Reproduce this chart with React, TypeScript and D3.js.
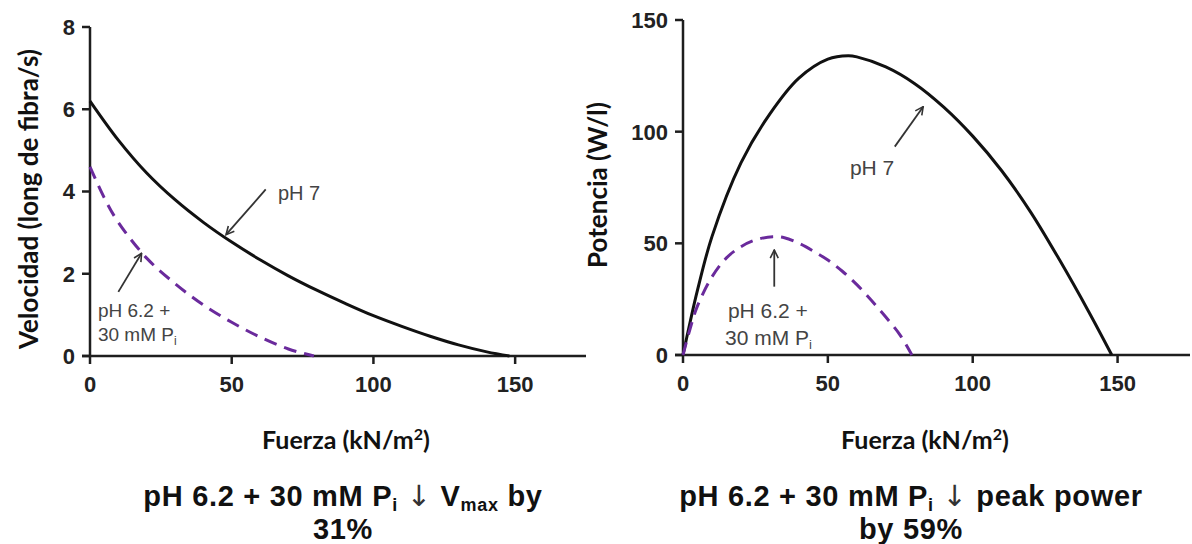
import React from "react";
import * as d3 from "d3";

// ---- Data ----
const forcePH7 = [0, 10, 20, 30, 40, 50, 60, 70, 80, 90, 100, 110, 120, 130, 140, 148];
const velocityPH7 = [6.2, 5.25, 4.45, 3.8, 3.25, 2.77, 2.34, 1.95, 1.6, 1.28, 0.98, 0.72, 0.48, 0.27, 0.1, 0];
const forceAcid = [0, 5, 10, 20, 30, 40, 50, 60, 70, 79];
const velocityAcid = [4.6, 3.85, 3.25, 2.38, 1.76, 1.24, 0.82, 0.46, 0.17, 0];

const powerForcePH7 = [0, 2.5, 5, 10, 20, 30, 40, 50, 57, 60, 70, 80, 90, 100, 110, 120, 130, 140, 148];
const powerPH7 = [0, 15, 29, 53, 86, 108, 124, 132.5, 134, 133.5, 129, 121.5, 111, 98, 82.5, 64, 42.5, 19.5, 0];
const powerForceAcid = [0, 2.5, 5, 10, 15, 20, 25, 31, 35, 40, 45, 50, 55, 60, 65, 70, 75, 79];
const powerAcid = [0, 12, 22, 35, 43.5, 48.5, 51.5, 53, 52.5, 50, 46.5, 42.5, 37.5, 31.5, 24.5, 17, 8.8, 0];

const xTicks = [0, 50, 100, 150];
const velocityTicks = [0, 2, 4, 6, 8];
const powerTicks = [0, 50, 100, 150];

const xLabel = "Fuerza (kN/m";
const velocityLabel = "Velocidad (long de fibra/s)";
const powerLabel = "Potencia (W/l)";

const BLACK = "#111";
const PURPLE = "#6a2a9c";
const AXIS = "#1e1e1e";
const NOTE = "#444";

const tickFont = "'Liberation Sans', Arial, sans-serif";
const labelFont = "Lato, 'Liberation Sans', sans-serif";
const arrowFont = "'DejaVu Sans', sans-serif";

type Pt = [number, number];
const zip = (a: number[], b: number[]): Pt[] => a.map((v, i) => [v, b[i]]);

function Axes({ x, y, yTicks, yLabel, yLabelX, yLabelY, xLabelX }: any) {
  const [x0, x1] = x.range();
  const [y0, y1] = y.range();
  return (
    <g>
      <line x1={x0} x2={x0} y1={y1} y2={y0} stroke={AXIS} strokeWidth={2.5} />
      <line x1={x0 - 8} x2={x1} y1={y0} y2={y0} stroke={AXIS} strokeWidth={2.5} />
      {yTicks.map((t: number) => (
        <g key={"y" + t}>
          <line x1={x0 - 8} x2={x0} y1={y(t)} y2={y(t)} stroke={AXIS} strokeWidth={2.5} />
          <text
            x={x0 - 15}
            y={y(t)}
            dy="0.36em"
            textAnchor="end"
            fontFamily={tickFont}
            fontWeight="bold"
            fontSize={22}
            fill="#222"
          >
            {t}
          </text>
        </g>
      ))}
      {xTicks.map((t) => (
        <g key={"x" + t}>
          <line x1={x(t)} x2={x(t)} y1={y0} y2={y0 + 8} stroke={AXIS} strokeWidth={2.5} />
          <text
            x={x(t)}
            y={y0 + 36}
            textAnchor="middle"
            fontFamily={tickFont}
            fontWeight="bold"
            fontSize={22}
            fill="#222"
          >
            {t}
          </text>
        </g>
      ))}
      <text
        transform={`translate(${yLabelX},${yLabelY}) rotate(-90)`}
        textAnchor="middle"
        fontFamily={labelFont}
        fontWeight="bold"
        fontSize={26}
        fill="#111"
      >
        {yLabel}
      </text>
      <text
        x={xLabelX}
        y={449}
        textAnchor="middle"
        fontFamily={labelFont}
        fontWeight="bold"
        fontSize={25}
        fill="#111"
      >
        {xLabel}
        <tspan fontSize={16} dy={-9}>2</tspan>
        <tspan dy={9}>)</tspan>
      </text>
    </g>
  );
}

function Arrow({ x1, y1, x2, y2 }: any) {
  return (
    <line x1={x1} y1={y1} x2={x2} y2={y2} stroke="#333" strokeWidth={1.8} markerEnd="url(#arrowhead)" />
  );
}

export default function App() {
  // Left chart scales
  const xL = d3.scaleLinear().domain([0, 175]).range([90, 586]);
  const yL = d3.scaleLinear().domain([0, 8]).range([356, 27]);
  // Right chart scales
  const xR = d3.scaleLinear().domain([0, 175]).range([683, 1190]);
  const yR = d3.scaleLinear().domain([0, 150]).range([355, 20]);

  const lineL = d3
    .line<Pt>()
    .x((d) => xL(d[0]))
    .y((d) => yL(d[1]))
    .curve(d3.curveCatmullRom.alpha(0.5));
  const lineR = d3
    .line<Pt>()
    .x((d) => xR(d[0]))
    .y((d) => yR(d[1]))
    .curve(d3.curveCatmullRom.alpha(0.5));

  const titleProps = {
    textAnchor: "middle" as const,
    fontFamily: tickFont,
    fontWeight: "bold",
    fontSize: 29,
    letterSpacing: 0.7,
    fill: "#111",
  };

  return (
    <svg
      width={1192}
      height={544}
      style={{ position: "absolute", left: 0, top: 0, background: "#fff" }}
    >
      <defs>
        <marker
          id="arrowhead"
          viewBox="0 0 10 10"
          refX={9}
          refY={5}
          markerWidth={10}
          markerHeight={10}
          markerUnits="userSpaceOnUse"
          orient="auto"
        >
          <path d="M1,1 L9,5 L1,9" fill="none" stroke="#333" strokeWidth={1.6} />
        </marker>
      </defs>
      <rect width={1192} height={544} fill="#fff" />

      {/* Left chart: velocity */}
      <Axes
        x={xL}
        y={yL}
        yTicks={velocityTicks}
        yLabel={velocityLabel}
        yLabelX={38}
        yLabelY={199}
        xLabelX={346}
      />
      <path d={lineL(zip(forcePH7, velocityPH7)) || ""} fill="none" stroke={BLACK} strokeWidth={3} />
      <path
        d={lineL(zip(forceAcid, velocityAcid)) || ""}
        fill="none"
        stroke={PURPLE}
        strokeWidth={3}
        strokeDasharray="13 8"
      />
      <Arrow x1={xL(62)} y1={yL(4.05)} x2={xL(48)} y2={yL(2.95)} />
      <text x={xL(66.3)} y={yL(3.8)} fontFamily={tickFont} fontSize={20} fill={NOTE}>
        pH 7
      </text>
      <Arrow x1={xL(10)} y1={yL(1.56)} x2={xL(18.2)} y2={yL(2.5)} />
      <text x={xL(2.8)} y={yL(0.95)} fontFamily={tickFont} fontSize={19} fill={NOTE}>
        pH 6.2 +
      </text>
      <text x={xL(2.8)} y={yL(0.36)} fontFamily={tickFont} fontSize={19} fill={NOTE}>
        30 mM P<tspan fontSize={12} dy={4}>i</tspan>
      </text>

      {/* Right chart: power */}
      <Axes
        x={xR}
        y={yR}
        yTicks={powerTicks}
        yLabel={powerLabel}
        yLabelX={607}
        yLabelY={185}
        xLabelX={925}
      />
      <path d={lineR(zip(powerForcePH7, powerPH7)) || ""} fill="none" stroke={BLACK} strokeWidth={3} />
      <path
        d={lineR(zip(powerForceAcid, powerAcid)) || ""}
        fill="none"
        stroke={PURPLE}
        strokeWidth={3}
        strokeDasharray="13 8"
      />
      <Arrow x1={xR(73.1)} y1={yR(93.3)} x2={xR(82.9)} y2={yR(111.2)} />
      <text x={xR(57.6)} y={yR(80.6)} fontFamily={tickFont} fontSize={21} fill={NOTE}>
        pH 7
      </text>
      <Arrow x1={xR(31.5)} y1={yR(30.6)} x2={xR(31.5)} y2={yR(47)} />
      <text x={xR(15.5)} y={yR(16.6)} fontFamily={tickFont} fontSize={21} fill={NOTE}>
        pH 6.2 +
      </text>
      <text x={xR(14.5)} y={yR(4.5)} fontFamily={tickFont} fontSize={21} fill={NOTE}>
        30 mM P<tspan fontSize={13} dy={4}>i</tspan>
      </text>

      {/* Titles */}
      <text x={343} y={506} {...titleProps}>
        pH 6.2 + 30 mM P<tspan fontSize={18} dy={5}>i</tspan>
        <tspan dy={-5}> </tspan>
        <tspan fontFamily={arrowFont} fontWeight="normal" fill="#333">↓</tspan>
        <tspan> V</tspan>
        <tspan fontSize={18} dy={5}>max</tspan>
        <tspan dy={-5}> by</tspan>
      </text>
      <text x={343} y={539} {...titleProps}>
        31%
      </text>
      <text x={911} y={506} {...titleProps}>
        pH 6.2 + 30 mM P<tspan fontSize={18} dy={5}>i</tspan>
        <tspan dy={-5}> </tspan>
        <tspan fontFamily={arrowFont} fontWeight="normal" fill="#333">↓</tspan>
        <tspan> peak power</tspan>
      </text>
      <text x={911} y={539} {...titleProps}>
        by 59%
      </text>
    </svg>
  );
}
